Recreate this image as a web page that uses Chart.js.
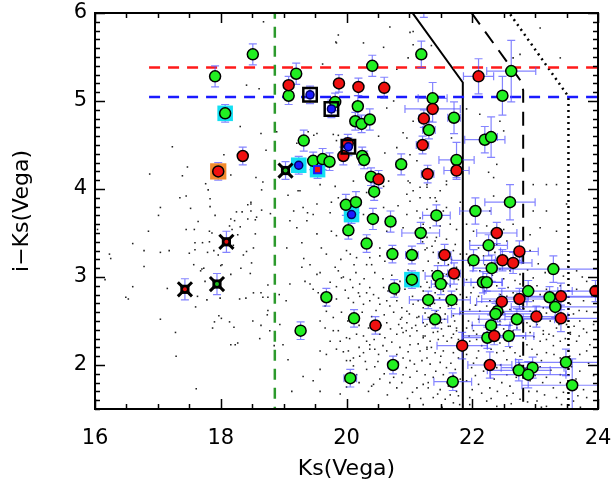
<!DOCTYPE html>
<html>
<head>
<meta charset="utf-8">
<script src="https://cdn.jsdelivr.net/npm/chart.js@4/dist/chart.umd.min.js"></script>
<style>
  html, body { margin: 0; padding: 0; background: #fff; }
  canvas { display: block; }
</style>
</head>
<body>
<canvas id="colourMag" width="615" height="488"></canvas>
<script>
// Ks vs i-Ks colour-magnitude diagram
const xTicks = [16, 18, 20, 22, 24];
const yTicks = [2, 3, 4, 5, 6];

// [Ks, i-Ks, errKs, errColour]
const greenSources = [
  [18.51, 5.53, 0, 0.12], [17.91, 5.28, 0, 0.12], [19.20, 5.31, 0.05, 0.12], [19.08, 5.06, 0.05, 0.1],
  [19.82, 4.99, 0.05, 0.1], [19.32, 4.55, 0.05, 0.12], [19.47, 4.32, 0.05, 0.1], [19.62, 4.34, 0.05, 0.12],
  [19.73, 4.31, 0.05, 0.1], [19.99, 3.82, 0.05, 0.12], [20.15, 3.85, 0.05, 0.12], [21.19, 5.53, 0.06, 0.15],
  [20.41, 5.40, 0.06, 0.12], [22.62, 5.34, 0.39, 0.35], [22.48, 5.06, 0.05, 0.22], [21.37, 5.03, 0.23, 0.18],
  [21.71, 4.81, 0.1, 0.18], [21.31, 4.67, 0.1, 0.1], [22.20, 4.56, 0.32, 0.15], [22.30, 4.59, 0.1, 0.23],
  [20.18, 4.94, 0.05, 0.12], [20.14, 4.77, 0.05, 0.1], [20.24, 4.74, 0.05, 0.1], [20.37, 4.79, 0.06, 0.12],
  [20.25, 4.375, 0.05, 0.1], [20.28, 4.33, 0.05, 0.1], [20.87, 4.28, 0.08, 0.12], [21.75, 4.33, 0.28, 0.2],
  [20.39, 4.14, 0.05, 0.1], [20.44, 3.97, 0.05, 0.1], [22.60, 3.85, 0.4, 0.2], [22.05, 3.75, 0.25, 0.15],
  [21.43, 3.70, 0.22, 0.12], [20.42, 3.66, 0.06, 0.12], [20.70, 3.63, 0.08, 0.12], [20.03, 3.53, 0.05, 0.1],
  [21.18, 3.50, 0.3, 0.12], [20.32, 3.38, 0.06, 0.1], [22.26, 3.36, 0.3, 0.12], [20.73, 3.26, 0.08, 0.1],
  [21.04, 3.25, 0.1, 0.1], [22.02, 3.19, 0.35, 0.12], [22.31, 3.10, 0.3, 0.15], [23.29, 3.09, 0.9, 0.15],
  [21.45, 3.01, 0.2, 0.12], [21.50, 2.92, 0.15, 0.12], [22.17, 2.94, 0.3, 0.12], [22.23, 2.94, 0.25, 0.1],
  [20.76, 2.87, 0.08, 0.1], [22.89, 2.84, 0.7, 0.12], [23.23, 2.77, 0.8, 0.12], [21.30, 2.74, 0.3, 0.1],
  [21.67, 2.74, 0.3, 0.1], [23.32, 2.66, 0.7, 0.12], [22.40, 2.61, 0.6, 0.12], [22.37, 2.58, 0.7, 0.12],
  [22.71, 2.52, 0.6, 0.12], [20.12, 2.53, 0.06, 0.1], [21.41, 2.52, 0.2, 0.1], [22.30, 2.45, 0.3, 0.12],
  [22.24, 2.31, 0.4, 0.12], [22.58, 2.33, 0.4, 0.12], [20.74, 2.00, 0.08, 0.1], [23.49, 2.03, 0.8, 0.15],
  [22.74, 1.94, 0.5, 0.12], [22.96, 1.97, 0.5, 0.12], [22.89, 1.89, 0.6, 0.15], [23.59, 1.77, 0.8, 0.3],
  [20.06, 1.85, 0.1, 0.1], [21.69, 1.81, 0.3, 0.1], [19.68, 2.77, 0.05, 0.1], [19.27, 2.39, 0.05, 0.1],
  [21.23, 6.25, 0, 0.3]
];

const redSources = [
  [18.35, 4.375, 0, 0.1], [19.08, 5.18, 0.05, 0.1], [19.88, 5.20, 0.05, 0.1], [19.95, 4.375, 0.05, 0.1],
  [20.19, 5.16, 0.06, 0.1], [20.60, 5.15, 0.06, 0.12], [22.10, 5.28, 0.24, 0.2], [21.37, 4.91, 0.44, 0.15],
  [21.23, 4.80, 0.08, 0.1], [21.21, 4.50, 0.1, 0.1], [21.75, 4.21, 0.2, 0.1], [21.29, 4.17, 0.1, 0.1],
  [20.51, 4.11, 0.05, 0.1], [22.39, 3.50, 0.32, 0.12], [22.75, 3.29, 0.3, 0.12], [21.56, 3.25, 0.1, 0.12],
  [22.48, 3.19, 0.3, 0.12], [22.65, 3.16, 0.3, 0.12], [21.71, 3.04, 0.1, 0.12], [23.96, 2.84, 0.6, 0.12],
  [23.41, 2.78, 0.7, 0.15], [22.75, 2.75, 0.6, 0.12], [22.47, 2.72, 0.4, 0.15], [23.02, 2.55, 0.5, 0.12],
  [23.41, 2.53, 0.6, 0.15], [20.46, 2.45, 0.06, 0.1], [22.35, 2.33, 0.5, 0.1], [21.84, 2.22, 0.4, 0.15],
  [22.28, 2.00, 0.35, 0.15], [20.02, 4.52, 0.05, 0.1]
];

// flagged sources
const cyanBoxed = [[18.07, 4.86, 0, 0.1], [19.24, 4.27, 0.05, 0.1], [19.54, 4.22, 0.05, 0.1], [20.08, 3.71, 0.05, 0.1], [21.04, 2.97, 0.08, 0.1]];
const cyanInnerGreen = [[18.07, 4.86], [21.04, 2.97]];
const cyanInnerBlue = [[19.24, 4.27], [20.08, 3.71]];
const cyanInnerRed = [[19.54, 4.22]];
const blackBoxed = [[19.42, 5.07, 0.05, 0.1], [19.76, 4.91, 0.05, 0.1], [20.03, 4.48, 0.05, 0.1]];
const orangeBoxed = [[17.96, 4.20, 0, 0.1]];
const crossedRed = [[18.09, 3.40, 0, 0.12], [17.43, 2.86, 0, 0.12]];
const crossedGreen = [[17.94, 2.92, 0, 0.12], [19.03, 4.21, 0.05, 0.1]];

// selection limits
const redLimit = [[16.86, 5.38], [24, 5.38]];
const blueLimit = [[16.86, 5.045], [24, 5.045]];
const greenLimit = [[18.86, 1.4], [18.86, 6.1]];
const solidLimit = [[21.01, 6.04], [21.85, 5.21], [21.85, 1.4]];
const dashedLimit = [[21.99, 6.0], [22.78, 5.22], [22.81, 5.12], [22.81, 1.4]];
const dottedLimit = [[22.55, 6.04], [23.53, 5.05], [23.53, 1.4]];

// background field stars
const fieldStars = [
  [17.04,3.79],[17.52,3.78],[17.83,3.80],[17.01,3.70],[17.91,3.70],[18.25,3.74],[18.34,3.74],[18.48,3.83],
  [18.43,3.82],[18.48,3.75],[18.65,3.76],[18.79,3.72],[18.57,3.68],[18.16,3.66],[18.43,3.66],[18.55,3.65],
  [18.22,3.64],[17.64,3.63],[17.45,3.54],[17.58,3.54],[17.82,3.52],[17.86,3.50],[18.14,3.58],[18.31,3.57],
  [18.18,3.54],[18.27,3.48],[18.55,3.49],[16.85,3.52],[16.04,3.54],[16.60,3.38],[16.78,3.30],[17.04,3.28],
  [17.18,3.30],[17.59,3.39],[17.71,3.39],[17.82,3.40],[17.59,3.31],[17.50,3.27],[17.79,3.28],[17.89,3.30],
  [18.20,3.36],[17.96,3.25],[18.36,3.25],[18.41,3.29],[18.52,3.33],[16.23,3.26],[16.25,3.21],[17.57,3.14],
  [16.78,3.12],[17.70,3.09],[17.73,3.10],[17.68,3.07],[18.00,3.13],[18.02,3.14],[18.32,3.10],[18.49,3.16],
  [18.47,3.04],[18.16,3.03],[16.16,2.97],[17.75,2.95],[18.75,2.91],[18.52,2.82],[18.64,2.82],[18.75,2.77],
  [18.67,2.77],[18.40,2.76],[18.30,2.75],[17.99,2.76],[17.78,2.74],[17.63,2.78],[17.15,2.87],[16.60,2.89],
  [16.49,2.77],[16.53,2.75],[17.60,2.66],[18.75,2.62],[18.74,2.57],[17.04,2.52],[17.97,2.56],[18.01,2.53],
  [17.90,2.49],[17.87,2.42],[18.14,2.49],[18.21,2.43],[18.51,2.50],[18.64,2.45],[18.78,2.39],[17.28,2.37],
  [18.62,2.30],[18.16,2.23],[18.23,2.23],[18.27,2.25],[17.29,2.10],[17.61,1.73],[18.85,2.22],
  [18.68,5.90],[19.87,5.75],[19.83,5.67],[19.62,5.42],[18.41,5.18],[18.61,5.14],[17.23,4.48],[18.31,4.71],
  [18.64,4.63],[18.89,4.65],[18.72,4.44],[18.05,4.39],[17.47,4.25],[16.87,4.17],[17.39,4.15],[18.16,4.16],
  [18.56,4.13],[18.67,4.08],[17.76,4.06],[17.80,3.99],[17.35,3.90],[17.45,3.92],[19.16,3.75],[19.38,3.73],
  [19.53,3.83],[19.74,3.73],[17.83,3.89],[18.48,3.85],[18.65,3.99],[19.07,3.93],[19.26,3.98],[19.18,4.33],
  [19.39,4.65],[19.53,4.63],[19.46,4.34],
  [19.32,3.21],[19.42,3.14],[19.29,3.11],[19.53,3.03],[19.58,3.05],[19.91,3.20],[20.06,3.26],[20.12,3.14],
  [20.16,3.22],[20.32,3.14],[20.40,3.14],[20.37,3.22],[20.53,3.24],[20.61,3.18],[19.82,3.11],[19.87,3.07],
  [19.92,2.99],[20.06,2.97],[19.74,2.94],[19.42,2.92],[19.34,2.95],[19.10,2.92],[19.04,2.73],[18.93,2.80],
  [19.47,2.86],[19.55,2.82],[19.84,2.89],[19.98,2.85],[20.21,2.92],[20.37,2.88],[20.59,2.88],[20.19,2.82],
  [20.21,2.78],[20.32,2.82],[20.43,2.80],[20.51,2.76],[19.84,2.75],[20.03,2.76],[20.11,2.71],[20.27,2.69],
  [20.37,2.73],[20.53,2.69],[20.64,2.73],[20.69,2.67],[20.80,2.73],[20.88,2.65],[20.96,2.61],[21.06,2.69],
  [21.14,2.73],[21.22,2.65],[19.66,2.67],[19.68,2.61],[19.92,2.60],[19.79,2.54],[19.58,2.50],[19.79,2.39],
  [19.87,2.39],[19.90,2.27],[20.00,2.31],[20.16,2.35],[20.27,2.33],[20.32,2.27],[20.37,2.23],[20.53,2.35],
  [20.61,2.31],[20.80,2.35],[20.90,2.37],[21.01,2.33],[21.12,2.39],[21.22,2.31],[21.04,2.42],[20.96,2.48],
  [20.88,2.54],[21.12,2.54],[21.22,2.48],[18.94,2.46],[18.99,2.23],[19.07,2.06],[19.58,2.16],[19.68,2.12],
  [19.84,2.18],[20.03,2.16],[20.11,2.08],[20.21,2.10],[20.27,2.14],[20.37,2.18],[20.51,2.12],[20.64,2.16],
  [20.80,2.12],[20.90,2.08],[21.01,2.05],[21.17,2.16],[21.28,2.08],[20.00,2.05],[20.06,2.05],[20.11,1.99],
  [20.32,1.95],[19.58,1.95],[19.31,1.87],[19.47,1.82],[20.16,1.89],[20.43,1.78],[20.53,1.84],[20.69,1.80],
  [20.90,1.89],[21.01,1.86],[21.12,1.74],[21.22,1.78],[19.13,1.70],[19.58,1.70],[20.40,1.76],[20.80,1.74],
  [19.90,1.67],[21.12,1.93],[21.01,2.23],[21.28,2.20],[20.88,2.42],[20.64,2.48],[20.48,2.41],[19.74,2.27],
  [19.66,2.42],
  [19.21,4.52],[19.48,4.61],[19.87,4.61],[20.51,4.60],[20.61,4.41],[20.96,4.58],[21.12,4.32],[20.80,4.28],
  [20.98,4.09],[21.06,3.98],[21.28,4.02],[21.41,3.90],[19.23,3.98],[19.31,3.79],[19.47,3.71],[19.76,3.85],
  [19.87,3.90],[19.58,4.05],[19.82,4.03],[19.10,3.64],[19.21,3.56],[19.37,3.64],[19.53,3.49],[19.76,3.52],
  [19.84,3.47],[19.60,3.33],[19.05,3.33],[19.29,3.39],[19.68,3.26],[20.00,3.30],[20.27,3.71],[20.59,3.79],
  [20.82,3.81],[20.96,3.71],[21.12,3.75],[21.28,3.77],[20.64,3.52],[20.90,3.56],[21.22,3.56],[21.28,3.33],
  [21.43,3.45],[20.53,3.33],[20.11,4.09],[20.59,4.03],[20.32,3.96],[20.00,3.64],
  [21.06,5.79],[21.35,5.63],[23.08,5.83],[22.65,5.49],[22.76,5.53],[23.40,5.49],[22.12,4.85],[22.44,4.77],
  [22.50,4.66],[21.91,4.91],[22.07,5.30],[21.67,4.58],[21.70,4.32],[22.39,4.28],[22.97,4.05],[23.18,4.05],
  [23.34,4.05],[22.26,4.19],[22.34,4.13],[21.28,4.05],[21.59,4.05],[21.17,3.90],[21.49,3.98],[21.01,3.86],
  [22.34,3.92],[21.54,3.75],[21.17,3.67],[22.97,3.75],[22.28,3.75],[21.81,3.85],[23.18,3.75],[23.50,3.83],
  [20.69,5.84],[21.01,5.78],[21.06,5.64],[20.59,5.61],[19.84,5.66],[20.27,5.66],[20.75,5.00],[20.98,5.49],
  [20.80,5.36],[20.64,4.92],[20.90,4.64],[21.06,4.77],[20.80,4.47],[21.01,4.39],[20.67,4.09],[21.01,4.07],
  [20.96,3.94],[21.17,4.02],[21.33,3.90],[21.43,3.86],[21.59,3.79],[21.59,4.09],[19.79,4.62],[19.84,4.55],
  [21.22,3.60],[21.33,3.56],[21.49,3.58],[21.65,3.60],[21.75,3.54],[21.28,3.45],[21.41,3.41],[21.59,3.43],
  [21.73,3.37],[21.25,3.31],[21.38,3.28],[21.70,3.30],[21.81,3.26],[21.30,3.18],[21.46,3.16],[21.62,3.14],
  [21.75,3.11],[21.22,3.07],[21.36,3.07],[21.59,3.03],[21.78,2.97],[21.28,2.94],[21.65,2.90],[21.75,2.86],
  [21.22,2.84],[21.41,2.82],[21.54,2.84],[21.81,2.80],[21.33,2.67],[21.49,2.65],[21.62,2.67],[21.75,2.69],
  [21.25,2.59],[21.43,2.61],[21.57,2.58],[21.70,2.56],[21.81,2.59],[21.28,2.46],[21.51,2.48],[21.62,2.44],
  [21.75,2.42],[21.38,2.37],[21.54,2.33],[21.70,2.35],[21.78,2.29],[21.25,2.33],
  [21.91,3.60],[22.02,3.52],[22.23,3.58],[22.50,3.54],[22.65,3.60],[22.92,3.48],[23.08,3.56],[23.34,3.52],
  [21.96,3.41],[22.10,3.33],[22.39,3.37],[22.55,3.41],[21.91,3.26],[22.18,3.24],[22.36,3.28],[22.92,3.30],
  [21.96,3.13],[22.12,3.07],[22.44,3.09],[22.60,3.07],[22.76,3.03],[22.97,2.99],[23.16,3.05],[23.45,3.01],
  [23.66,3.07],[23.82,2.95],[21.91,2.97],[22.02,2.88],[22.39,2.90],[22.57,2.88],[22.76,2.92],[23.03,2.90],
  [23.18,2.86],[23.40,2.90],[23.66,2.86],[21.91,2.77],[22.10,2.78],[22.28,2.73],[22.55,2.78],[22.76,2.69],
  [22.97,2.73],[23.13,2.65],[23.56,2.69],[23.77,2.73],[21.96,2.63],[22.12,2.61],[22.23,2.67],[22.60,2.63],
  [22.92,2.61],[23.18,2.59],[23.61,2.58],[23.82,2.61],[21.94,2.50],[22.10,2.52],[22.44,2.50],[22.87,2.48],
  [23.03,2.46],[23.24,2.50],[23.50,2.46],[23.71,2.50],[23.93,2.46],[22.02,2.39],[22.23,2.37],[22.50,2.41],
  [22.71,2.42],[22.92,2.37],[23.13,2.39],[23.29,2.33],[23.56,2.35],[23.82,2.37],[22.07,2.29],[22.55,2.29],
  [22.81,2.31],[23.18,2.29],[23.40,2.27],
  [21.25,2.44],[21.38,2.46],[21.51,2.41],[21.65,2.44],[21.75,2.39],[21.22,2.33],[21.33,2.27],[21.46,2.29],
  [21.67,2.31],[21.28,2.18],[21.41,2.14],[21.54,2.16],[21.70,2.14],[21.78,2.08],[21.20,2.05],[21.33,2.01],
  [21.49,2.03],[21.59,1.97],[21.73,1.95],[21.25,1.89],[21.38,1.86],[21.54,1.89],[21.70,1.88],[21.81,1.84],
  [21.30,1.74],[21.49,1.72],[21.62,1.76],[21.75,1.70],[21.38,1.63],[21.57,1.61],[21.70,1.57],[21.78,1.65],
  [21.22,1.55],
  [21.91,2.42],[22.07,2.35],[22.23,2.41],[22.44,2.46],[22.65,2.39],[22.92,2.44],[23.13,2.35],[23.34,2.42],
  [23.56,2.37],[23.77,2.41],[21.96,2.27],[22.15,2.22],[22.44,2.25],[22.60,2.20],[22.87,2.23],[23.08,2.27],
  [23.29,2.22],[23.66,2.27],[23.87,2.23],[21.91,2.12],[22.07,2.08],[22.39,2.14],[22.55,2.06],[22.76,2.10],
  [23.03,2.12],[23.18,2.14],[23.40,2.08],[23.71,2.12],[21.99,1.97],[22.18,1.93],[22.39,1.97],[22.55,1.89],
  [22.65,1.95],[22.92,1.82],[23.18,1.86],[23.40,1.89],[23.71,1.93],[23.93,1.88],[21.91,1.82],[22.10,1.78],
  [22.28,1.74],[22.47,1.80],[22.60,1.76],[23.03,1.70],[23.29,1.74],[23.50,1.78],[23.77,1.72],[21.96,1.63],
  [22.23,1.59],[22.55,1.65],[22.76,1.61],[23.03,1.59],[23.34,1.63],[23.61,1.59],[23.82,1.63],[22.39,1.53],
  [23.18,1.53],[21.96,1.55],
  [20.45,3.05],[20.58,2.98],[20.72,3.02],[20.85,2.95],[20.98,3.08],[21.08,2.99],[20.66,2.84],[20.79,2.80],
  [20.93,2.86],[21.05,2.78],[21.18,2.89],[20.47,2.62],[20.60,2.57],[20.75,2.60],[20.86,2.52],[21.00,2.58],
  [21.15,2.55],[20.55,2.45],[20.70,2.41],[20.83,2.46],[20.95,2.39],[21.10,2.45],[20.44,2.29],[20.58,2.22],
  [20.72,2.26],[20.85,2.20],[20.98,2.15],[21.14,2.24],[20.50,2.04],[20.66,2.00],[20.82,2.03],[20.95,1.97],
  [21.08,2.01],[20.60,1.90],[20.75,1.86],[20.88,1.80],[21.05,1.69],[20.97,1.62],[20.65,1.66],[21.18,1.62],
  [21.21,3.40],[21.36,3.35],[21.52,3.22],[21.67,3.20],[21.44,3.00],[21.60,2.93],[21.32,2.88],[21.48,2.76],
  [21.68,2.78],[21.27,2.72],[21.40,2.70],[21.56,2.52],[21.72,2.50],[21.30,2.54],[21.45,2.38],[21.60,2.27],
  [21.35,2.20],[21.50,2.10],[21.66,2.02],[21.42,1.93],[21.60,1.80],[21.30,1.80],[21.45,1.67],[21.65,1.66],
  [21.80,1.55],[21.52,1.52],
  [21.98,3.20],[22.20,3.14],[22.32,3.02],[22.50,2.98],[22.68,2.96],[22.88,3.08],[23.05,3.15],[23.28,3.08],
  [23.52,3.12],[23.75,3.00],[21.98,2.82],[22.20,2.84],[22.45,2.80],[22.65,2.82],[22.86,2.78],[23.08,2.80],
  [23.30,2.76],[23.48,2.80],[23.90,2.78],[22.05,2.68],[22.35,2.66],[22.50,2.60],[22.82,2.64],[23.00,2.58],
  [23.25,2.64],[23.45,2.58],[23.70,2.62],[22.00,2.45],[22.30,2.48],[22.60,2.45],[22.78,2.50],[23.10,2.52],
  [23.38,2.46],[23.62,2.44],[21.95,2.33],[22.35,2.31],[22.65,2.30],[22.98,2.32],[23.22,2.35],[23.48,2.30],
  [23.70,2.33],[22.10,2.16],[22.30,2.18],[22.50,2.16],[22.68,2.14],[22.95,2.18],[23.10,2.05],[23.30,2.12],
  [23.55,2.10],[23.82,2.16],[22.02,2.02],[22.25,2.04],[22.45,2.00],[22.75,2.02],[22.85,1.96],[23.08,1.98],
  [23.25,1.94],[23.58,1.98],[23.85,2.02],[22.05,1.88],[22.35,1.84],[22.70,1.86],[23.00,1.88],[23.12,1.80],
  [23.40,1.80],[23.65,1.84],[22.15,1.68],[22.40,1.70],[22.65,1.68],[22.90,1.70],[23.15,1.66],[23.45,1.69],
  [23.68,1.65],[22.00,1.72],[22.30,1.62],[22.62,1.56],[22.88,1.58],[23.10,1.52],[23.42,1.55],[23.72,1.52],
  [19.95,3.00],[20.15,3.05],[20.28,2.98],[20.10,2.88],[20.25,2.60],[20.40,2.55],[20.02,2.50],[20.20,2.45],
  [20.35,2.42],[20.05,2.30],[20.20,2.20],[20.45,2.18],[19.95,2.15],[20.30,2.04],[20.45,1.98],[20.20,1.80],
  [20.35,1.70],[20.00,1.75]
];

const TICK_FONT = { family: 'DejaVu Sans', size: 21 };
const TITLE_FONT = { family: 'DejaVu Sans', size: 22 };
const pts = (rows) => rows.map(([x, y]) => ({ x, y }));

const errorSets = [greenSources, redSources, cyanBoxed, blackBoxed, orangeBoxed, crossedRed, crossedGreen];

const errorBars = {
  id: 'errorBars',
  afterDatasetDraw(chart, args) {
    if (chart.data.datasets[args.index].label !== 'errorbars') return;
    const { ctx, chartArea: a, scales: { x, y } } = chart;
    ctx.save();
    ctx.beginPath();
    ctx.rect(a.left, a.top, a.right - a.left, a.bottom - a.top);
    ctx.clip();
    ctx.strokeStyle = 'rgba(80, 80, 255, 0.7)';
    ctx.lineWidth = 1.2;
    const cap = 4;
    errorSets.flat().forEach(([k, c, dk, dc]) => {
      const px = x.getPixelForValue(k), py = y.getPixelForValue(c);
      ctx.beginPath();
      if (dc) {
        const y0 = y.getPixelForValue(c - dc), y1 = y.getPixelForValue(c + dc);
        ctx.moveTo(px, y0); ctx.lineTo(px, y1);
        ctx.moveTo(px - cap, y0); ctx.lineTo(px + cap, y0);
        ctx.moveTo(px - cap, y1); ctx.lineTo(px + cap, y1);
      }
      if (dk) {
        const x0 = x.getPixelForValue(k - dk), x1 = x.getPixelForValue(k + dk);
        ctx.moveTo(x0, py); ctx.lineTo(x1, py);
        ctx.moveTo(x0, py - cap); ctx.lineTo(x0, py + cap);
        ctx.moveTo(x1, py - cap); ctx.lineTo(x1, py + cap);
      }
      ctx.stroke();
    });
    ctx.restore();
  }
};

// IDL style frame with inward ticks on all four sides
const frame = {
  id: 'frame',
  afterDatasetsDraw(chart) {
    const { ctx, chartArea: a, scales: { x, y } } = chart;
    ctx.save();
    ctx.strokeStyle = '#000';
    ctx.lineWidth = 1.5;
    ctx.beginPath();
    for (let v = 16; v <= 24.001; v += 0.5) {
      const px = Math.round(x.getPixelForValue(v)) + 0.5;
      const len = Math.abs(v % 2) < 1e-6 ? 10 : 5;
      ctx.moveTo(px, a.bottom); ctx.lineTo(px, a.bottom - len);
      ctx.moveTo(px, a.top); ctx.lineTo(px, a.top + len);
    }
    for (let i = 15; i <= 60; i++) {
      const v = i / 10;
      const py = Math.round(y.getPixelForValue(v)) + 0.5;
      const len = i % 10 === 0 ? 10 : 5;
      ctx.moveTo(a.left, py); ctx.lineTo(a.left + len, py);
      ctx.moveTo(a.right, py); ctx.lineTo(a.right - len, py);
    }
    ctx.stroke();
    ctx.lineWidth = 2;
    ctx.strokeRect(a.left, a.top, a.right - a.left, a.bottom - a.top);
    ctx.restore();
  }
};

const limitLine = (data, color, dash, width, order) => ({
  data: pts(data), showLine: true, borderColor: color, borderWidth: width, borderDash: dash,
  pointRadius: 0, fill: false, order
});

const marker = (data, style, radius, fill, border, bw, order) => ({
  data: pts(data), pointStyle: style, pointRadius: radius, backgroundColor: fill,
  borderColor: border, pointBorderWidth: bw, borderWidth: bw, showLine: false, order
});

new Chart(document.getElementById('colourMag'), {
  type: 'scatter',
  data: {
    datasets: [
      marker(fieldStars, 'rect', 1.1, '#222', '#222', 0, 20),
      limitLine(redLimit, '#ff1a1a', [11, 8], 2.5, 15),
      limitLine(blueLimit, '#1a1aff', [11, 8], 2.5, 15),
      limitLine(greenLimit, '#2c9a2c', [11, 8], 2.5, 15),
      limitLine(solidLimit, '#000', [], 2, 15),
      limitLine(dashedLimit, '#000', [14, 9], 2, 15),
      limitLine(dottedLimit, '#000', [2, 4], 2.5, 15),
      { label: 'errorbars', data: [], pointRadius: 0, order: 12 },
      marker(cyanBoxed, 'rect', 11, '#13dff2', '#13dff2', 0, 10),
      marker(orangeBoxed, 'rect', 11.5, '#f28a2e', '#f28a2e', 0, 10),
      marker(greenSources, 'circle', 5.5, '#22f022', '#000', 1.5, 8),
      marker(redSources, 'circle', 5.5, '#f01010', '#000', 1.5, 7),
      marker(cyanInnerGreen, 'circle', 5.5, '#22f022', '#000', 1.5, 6),
      marker(cyanInnerBlue, 'circle', 4, '#1a1aff', '#000066', 1.5, 6),
      marker(cyanInnerRed, 'rect', 5, '#f01010', '#1a1aff', 2, 6),
      marker(blackBoxed, 'rect', 9.5, 'rgba(0,0,0,0)', '#000', 2.5, 5),
      marker(blackBoxed, 'circle', 4, '#1a1aff', '#000066', 1.5, 4),
      marker(orangeBoxed, 'circle', 5.5, '#f01010', '#000', 1.5, 4),
      marker([...crossedRed, ...crossedGreen], 'crossRot', 10, '#000', '#000', 3, 3),
      marker([...crossedRed, ...crossedGreen], 'rect', 6.5, '#000', '#000', 0, 3),
      marker(crossedRed, 'circle', 2, '#e01010', '#e01010', 0, 2),
      marker(crossedGreen, 'circle', 2, '#20c020', '#20c020', 0, 2)
    ]
  },
  options: {
    responsive: false,
    animation: false,
    events: [],
    layout: { padding: { left: 0, right: 17, top: 12, bottom: 0 } },
    plugins: { legend: { display: false }, tooltip: { enabled: false } },
    scales: {
      x: {
        type: 'linear', min: 16, max: 24,
        afterBuildTicks: (s) => { s.ticks = xTicks.map((v) => ({ value: v })); },
        afterFit: (s) => { s.height = 79; s.paddingLeft = 0; s.paddingRight = 0; },
        grid: { display: false, drawTicks: false },
        border: { display: false },
        ticks: { padding: 17, font: TICK_FONT, color: '#000', maxRotation: 0 },
        title: { display: true, text: 'Ks(Vega)', font: TITLE_FONT, color: '#000', padding: { top: 0, bottom: 6 } }
      },
      y: {
        type: 'linear', min: 1.5, max: 6,
        afterBuildTicks: (s) => { s.ticks = yTicks.map((v) => ({ value: v })); },
        afterFit: (s) => { s.width = 95; s.paddingTop = 0; s.paddingBottom = 0; },
        grid: { display: false, drawTicks: false },
        border: { display: false },
        ticks: { padding: 8, font: TICK_FONT, color: '#000' },
        title: { display: true, text: 'i\u2212Ks(Vega)', font: TITLE_FONT, color: '#000', padding: { top: 9, bottom: 0 } }
      }
    }
  },
  plugins: [errorBars, frame]
});
</script>
</body>
</html>
